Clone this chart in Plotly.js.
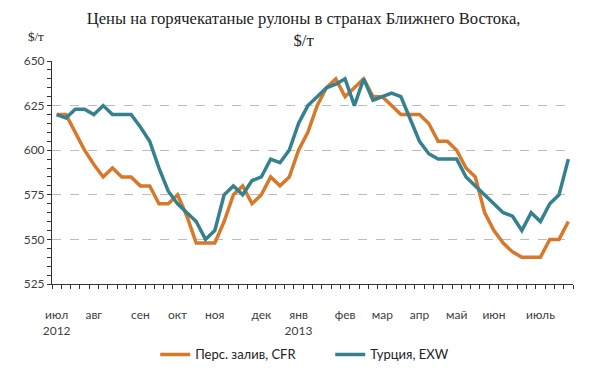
<!DOCTYPE html>
<html>
<head>
<meta charset="utf-8">
<script src="https://cdn.plot.ly/plotly-3.0.1.min.js"></script>
<style>html,body{margin:0;padding:0;background:#fff}#chart{width:600px;height:380px}</style>
</head>
<body>
<div id="chart"></div>
<script>
// Weekly prices, $/t
const persianGulfCFR = [620,620,610,600,592,585,590,585,585,580,580,570,570,575,563,548,548,548,560,575,
                        580,570,575,585,580,585,600,610,625,635,640,630,635,640,630,630,625,620,620,620,
                        615,605,605,600,590,585,565,555,548,543,540,540,540,550,550,560];
const turkeyEXW      = [620,618,623,623,620,625,620,620,620,613,605,590,577,570,565,560,550,555,575,580,
                        575,583,585,595,593,600,615,625,630,635,637,640,625,640,628,630,632,630,618,605,
                        598,595,595,595,585,580,575,570,565,563,555,565,560,570,575,595];
// Month labels and the week at which each one sits
const monthWeeks  = [0,4,9,13,17,22,26,31,35,39,43,47,52];
const monthLabels = ['июл<br>2012','авг','сен','окт','ноя','дек','янв<br>2013','фев','мар','апр','май','июн','июль'];
const seriesNames = ['Перс. залив, CFR','Турция, EXW'];

const weeks = persianGulfCFR.map((_, i) => i);

const traces = [
  {x: weeks, y: persianGulfCFR, name: seriesNames[0], type: 'scatter', mode: 'lines',
   line: {color: '#D7782B', width: 3.5}},
  {x: weeks, y: turkeyEXW, name: seriesNames[1], type: 'scatter', mode: 'lines',
   line: {color: '#35818F', width: 3.5}}
];

const layout = {
  width: 600, height: 380,
  margin: {l: 52, r: 27, t: 61, b: 95},
  paper_bgcolor: '#fff', plot_bgcolor: '#fff',
  showlegend: true,
  title: {
    text: 'Цены на горячекатаные рулоны в странах Ближнего Востока,<br>$/т',
    font: {family: 'Liberation Serif, serif', size: 16.6, color: '#222'},
    xref: 'container', x: 0.506, xanchor: 'center',
    yref: 'container', y: 0.937, yanchor: 'top'
  },
  xaxis: {
    range: [-0.5, 55.5],
    tickmode: 'array', tickvals: monthWeeks, ticktext: monthLabels,
    ticks: '', showgrid: false, zeroline: false,
    showline: true, linecolor: '#333', linewidth: 1,
    ticklabelstandoff: 20,
    tickfont: {family: 'Lato, sans-serif', size: 12, color: '#404040'},
    minor: {tickmode: 'linear', tick0: 0.5, dtick: 1, ticks: 'outside', ticklen: 4, tickcolor: '#333', showgrid: false}
  },
  yaxis: {
    range: [525, 650],
    tickmode: 'linear', tick0: 525, dtick: 25,
    ticks: 'outside', ticklen: 4, tickcolor: '#333',
    showline: true, linecolor: '#333', linewidth: 1,
    showgrid: true, gridcolor: '#bdbdbd', griddash: 'dash', gridwidth: 1,
    zeroline: false,
    tickfont: {family: 'Lato, sans-serif', size: 12, color: '#404040'},
    minor: {tickmode: 'linear', tick0: 525, dtick: 5, ticks: 'outside', ticklen: 4, tickcolor: '#333', showgrid: false}
  },
  legend: {
    orientation: 'h', xref: 'paper', x: 0.534, xanchor: 'center',
    yref: 'paper', y: -0.31, yanchor: 'middle',
    font: {family: 'Lato, sans-serif', size: 13, color: '#222'},
    itemwidth: 30, entrywidth: 130
  },
  annotations: [
    {text: '$/т', xref: 'paper', yref: 'paper', x: -0.03, y: 1.11, xanchor: 'center', yanchor: 'middle',
     showarrow: false, font: {family: 'Liberation Serif, serif', size: 13, color: '#222'}}
  ]
};

Plotly.newPlot('chart', traces, layout, {displayModeBar: false, staticPlot: true});
</script>
</body>
</html>
